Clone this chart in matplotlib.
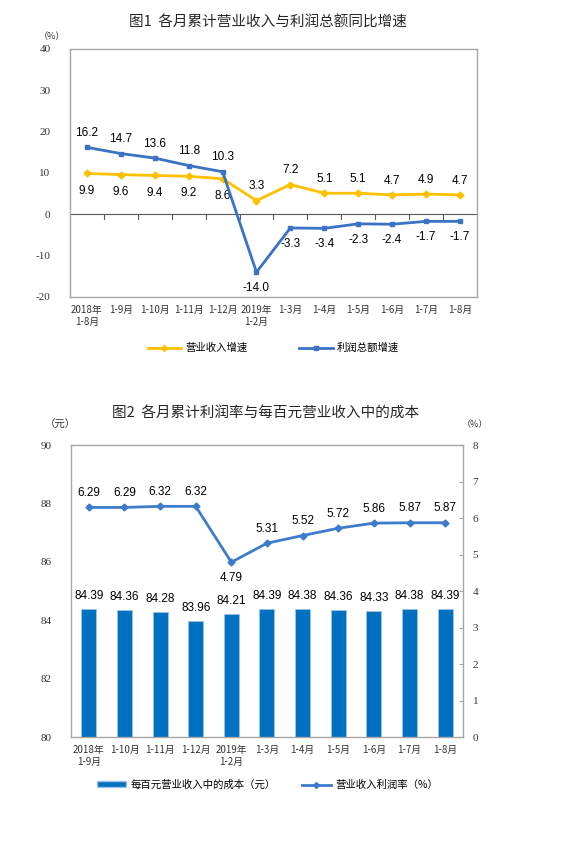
import matplotlib
matplotlib.use('Agg')
import matplotlib.pyplot as plt
from matplotlib.lines import Line2D
from matplotlib.patches import Patch

plt.rcParams['font.family'] = ['Liberation Serif', 'Noto Sans CJK SC']
plt.rcParams['axes.unicode_minus'] = False

# chart 1 data
months1 = ['2018年\n1-8月', '1-9月', '1-10月', '1-11月', '1-12月', '2019年\n1-2月',
           '1-3月', '1-4月', '1-5月', '1-6月', '1-7月', '1-8月']
revenue_growth = [9.9, 9.6, 9.4, 9.2, 8.6, 3.3, 7.2, 5.1, 5.1, 4.7, 4.9, 4.7]
profit_growth = [16.2, 14.7, 13.6, 11.8, 10.3, -14.0, -3.3, -3.4, -2.3, -2.4, -1.7, -1.7]

# chart 2 data
months2 = ['2018年\n1-9月', '1-10月', '1-11月', '1-12月', '2019年\n1-2月',
           '1-3月', '1-4月', '1-5月', '1-6月', '1-7月', '1-8月']
cost_per_100 = [84.39, 84.36, 84.28, 83.96, 84.21, 84.39, 84.38, 84.36, 84.33, 84.38, 84.39]
profit_margin = [6.29, 6.29, 6.32, 6.32, 4.79, 5.31, 5.52, 5.72, 5.86, 5.87, 5.87]

yellow = '#FFC000'
blue1 = '#3A72C4'
bar_blue = '#0070C0'
line_blue = '#3D7BCC'
frame = '#A6A6A6'
num_font = ['Liberation Sans', 'Noto Sans CJK SC']
cjk = ['Noto Sans CJK SC', 'Liberation Sans']
tick_col = '#333333'

fig = plt.figure(figsize=(5.88, 8.43), dpi=100)

# ---------- chart 1 ----------
ax1 = fig.add_axes([0.119, 0.6477, 0.692, 0.2942])
x1 = list(range(len(months1)))
ax1.plot(x1, revenue_growth, color=yellow, lw=2, marker='D', ms=3.5, zorder=3)
ax1.plot(x1, profit_growth, color=blue1, lw=2, marker='s', ms=3.5, zorder=4)
ax1.axhline(0, color='#595959', lw=0.8, zorder=1)
ax1.set_xlim(-0.5, len(months1) - 0.5)
ax1.set_ylim(-20, 40)
ax1.set_yticks([-20, -10, 0, 10, 20, 30, 40])
ax1.set_xticks(x1)
ax1.set_xticklabels(months1, fontsize=7, family=cjk, color=tick_col, linespacing=1.25)
ax1.tick_params(axis='x', length=0, pad=6)
ax1.tick_params(axis='y', length=0, labelsize=8, labelcolor=tick_col, pad=14)
for tx in x1[:-1]:
    ax1.plot([tx + 0.5, tx + 0.5], [0, -1.2], color='#595959', lw=0.8, zorder=1)
for s in ax1.spines.values():
    s.set_color(frame)
    s.set_linewidth(1)

for i, (r, p) in enumerate(zip(revenue_growth, profit_growth)):
    if i < 5:
        ax1.annotate(f'{r:.1f}', (i, r), xytext=(0, -8), textcoords='offset points',
                     ha='center', va='top', fontsize=8.5, family=num_font)
        ax1.annotate(f'{p:.1f}', (i, p), xytext=(0, 6), textcoords='offset points',
                     ha='center', va='bottom', fontsize=8.5, family=num_font)
    else:
        ax1.annotate(f'{r:.1f}', (i, r), xytext=(0, 6), textcoords='offset points',
                     ha='center', va='bottom', fontsize=8.5, family=num_font)
        ax1.annotate(f'{p:.1f}', (i, p), xytext=(0, -7), textcoords='offset points',
                     ha='center', va='top', fontsize=8.5, family=num_font)

fig.text(0.455, 0.973, '图1  各月累计营业收入与利润总额同比增速', ha='center', va='center',
         fontsize=10.5, family=cjk, weight='medium', color='#262626')
fig.text(0.088, 0.957, '（%）', ha='center', va='center', fontsize=6.5, family=cjk, color=tick_col)

h1 = [Line2D([], [], color=yellow, lw=2, marker='D', ms=3),
      Line2D([], [], color=blue1, lw=2, marker='s', ms=3)]
fig.legend(h1, ['营业收入增速', '利润总额增速'], loc='center', bbox_to_anchor=(0.465, 0.587),
           ncol=2, frameon=False, prop={'family': cjk, 'size': 7.5}, columnspacing=5,
           handlelength=3.2, handletextpad=0.4)

# ---------- chart 2 ----------
ax2 = fig.add_axes([0.1207, 0.1257, 0.6667, 0.3464])
x2 = list(range(len(months2)))
ax2.bar(x2, cost_per_100, width=0.42, color=bar_blue, edgecolor='#9DC3E6', linewidth=0.6, zorder=2)
ax2.set_ylim(80, 90)
ax2.set_yticks([80, 82, 84, 86, 88, 90])
ax2.set_xlim(-0.5, len(months2) - 0.5)
ax2.set_xticks(x2)
ax2.set_xticklabels(months2, fontsize=7, family=cjk, color=tick_col, linespacing=1.25)
ax2.tick_params(axis='x', length=0, pad=6)
ax2.tick_params(axis='y', length=0, labelsize=8, labelcolor=tick_col, pad=14)
for s in ax2.spines.values():
    s.set_color(frame)
    s.set_linewidth(1)
for i, c in enumerate(cost_per_100):
    ax2.annotate(f'{c:.2f}', (i, c), xytext=(0, 5), textcoords='offset points',
                 ha='center', va='bottom', fontsize=8.5, family=num_font)

ax3 = ax2.twinx()
ax3.plot(x2, profit_margin, color=line_blue, lw=2, marker='D', ms=3.5, zorder=5)
ax3.set_ylim(0, 8)
ax3.set_yticks(range(0, 9))
ax3.tick_params(axis='y', direction='in', length=3, color=frame, labelsize=8,
                labelcolor=tick_col, pad=7)
for s in ax3.spines.values():
    s.set_visible(False)
for i, m in enumerate(profit_margin):
    if i == 4:
        ax3.annotate(f'{m:.2f}', (i, m), xytext=(0, -7), textcoords='offset points',
                     ha='center', va='top', fontsize=8.5, family=num_font)
    else:
        ax3.annotate(f'{m:.2f}', (i, m), xytext=(0, 6), textcoords='offset points',
                     ha='center', va='bottom', fontsize=8.5, family=num_font)

fig.text(0.452, 0.510, '图2  各月累计利润率与每百元营业收入中的成本', ha='center', va='center',
         fontsize=10.5, family=cjk, weight='medium', color='#262626')
fig.text(0.102, 0.496, '（元）', ha='center', va='center', fontsize=7.5, family=cjk, color=tick_col)
fig.text(0.808, 0.496, '（%）', ha='center', va='center', fontsize=6.5, family=cjk, color=tick_col)

h2 = [Patch(facecolor=bar_blue, edgecolor='#9DC3E6'),
      Line2D([], [], color=line_blue, lw=2, marker='D', ms=3)]
fig.legend(h2, ['每百元营业收入中的成本（元）', '营业收入利润率（%）'], loc='center',
           bbox_to_anchor=(0.455, 0.069), ncol=2, frameon=False,
           prop={'family': cjk, 'size': 7.5}, columnspacing=2.5,
           handlelength=2.8, handleheight=0.5, handletextpad=0.4)

plt.savefig('out.png', dpi=100)
